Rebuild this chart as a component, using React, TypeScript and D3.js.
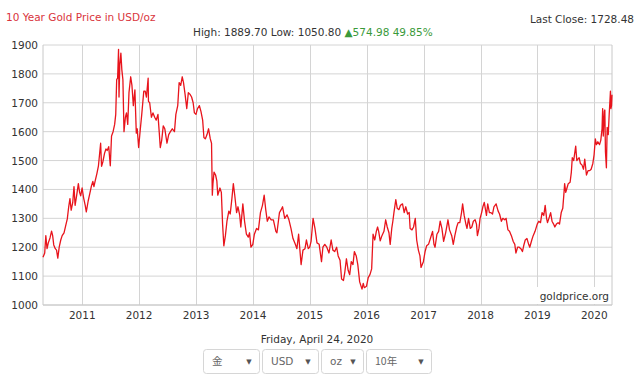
import React from "react";
import * as d3 from "d3";

const dates: string[] = [
  "2010-04-24","2010-05-05","2010-05-12","2010-05-20","2010-05-28","2010-06-08","2010-06-18","2010-06-25","2010-07-02","2010-07-12","2010-07-20","2010-07-28","2010-08-06","2010-08-16","2010-08-25","2010-09-06","2010-09-16","2010-09-27","2010-10-06","2010-10-14","2010-10-22","2010-11-01","2010-11-09","2010-11-16","2010-11-25","2010-12-07","2010-12-15","2010-12-22","2010-12-31",
  "2011-01-10","2011-01-20","2011-01-27","2011-02-08","2011-02-18","2011-02-28","2011-03-10","2011-03-17","2011-03-25","2011-04-05","2011-04-15","2011-04-29","2011-05-05","2011-05-13","2011-05-24","2011-06-02","2011-06-10","2011-06-20","2011-06-30","2011-07-08","2011-07-18","2011-07-28","2011-08-04","2011-08-10","2011-08-16","2011-08-22","2011-08-25","2011-08-30","2011-09-06","2011-09-12","2011-09-19","2011-09-26","2011-10-05","2011-10-12","2011-10-20","2011-10-28","2011-11-08","2011-11-16","2011-11-25","2011-12-05","2011-12-14","2011-12-20","2011-12-29",
  "2012-01-09","2012-01-18","2012-01-31","2012-02-09","2012-02-17","2012-02-28","2012-03-01","2012-03-09","2012-03-20","2012-03-30","2012-04-10","2012-04-20","2012-05-01","2012-05-09","2012-05-16","2012-05-25","2012-06-04","2012-06-14","2012-06-28","2012-07-09","2012-07-20","2012-08-01","2012-08-15","2012-08-24","2012-09-05","2012-09-14","2012-09-24","2012-10-04","2012-10-12","2012-10-22","2012-11-02","2012-11-12","2012-11-22","2012-12-03","2012-12-13","2012-12-21","2012-12-31",
  "2013-01-10","2013-01-22","2013-02-01","2013-02-12","2013-02-20","2013-03-01","2013-03-12","2013-03-22","2013-04-02","2013-04-10","2013-04-15","2013-04-19","2013-04-26","2013-05-06","2013-05-14","2013-05-20","2013-06-03","2013-06-12","2013-06-20","2013-06-28","2013-07-08","2013-07-18","2013-07-30","2013-08-08","2013-08-19","2013-08-28","2013-09-06","2013-09-18","2013-09-27","2013-10-08","2013-10-15","2013-10-28","2013-11-08","2013-11-20","2013-12-02","2013-12-10","2013-12-19","2013-12-31",
  "2014-01-10","2014-01-24","2014-02-05","2014-02-18","2014-03-03","2014-03-14","2014-03-24","2014-04-03","2014-04-14","2014-04-28","2014-05-12","2014-05-28","2014-06-04","2014-06-20","2014-07-01","2014-07-10","2014-07-24","2014-08-08","2014-08-20","2014-09-02","2014-09-15","2014-09-30","2014-10-10","2014-10-21","2014-11-06","2014-11-18","2014-12-01","2014-12-10","2014-12-22","2014-12-31",
  "2015-01-09","2015-01-22","2015-02-03","2015-02-16","2015-03-02","2015-03-17","2015-03-26","2015-04-07","2015-04-20","2015-05-04","2015-05-18","2015-05-29","2015-06-10","2015-06-22","2015-07-02","2015-07-14","2015-07-24","2015-08-05","2015-08-14","2015-08-24","2015-09-04","2015-09-14","2015-09-24","2015-10-05","2015-10-14","2015-10-26","2015-11-05","2015-11-17","2015-12-02","2015-12-10","2015-12-17","2015-12-31",
  "2016-01-11","2016-01-22","2016-02-02","2016-02-11","2016-02-22","2016-03-03","2016-03-11","2016-03-18","2016-03-28","2016-04-08","2016-04-21","2016-05-02","2016-05-12","2016-05-23","2016-05-31","2016-06-10","2016-06-17","2016-06-24","2016-07-06","2016-07-15","2016-07-26","2016-08-05","2016-08-18","2016-08-29","2016-09-08","2016-09-20","2016-09-30","2016-10-06","2016-10-18","2016-10-28","2016-11-08","2016-11-17","2016-11-28","2016-12-08","2016-12-15","2016-12-30",
  "2017-01-10","2017-01-20","2017-02-01","2017-02-13","2017-02-27","2017-03-08","2017-03-15","2017-03-27","2017-04-07","2017-04-17","2017-04-28","2017-05-09","2017-05-22","2017-06-06","2017-06-16","2017-06-30","2017-07-10","2017-07-20","2017-08-01","2017-08-10","2017-08-21","2017-09-01","2017-09-08","2017-09-18","2017-09-29","2017-10-06","2017-10-16","2017-10-27","2017-11-06","2017-11-16","2017-11-27","2017-12-06","2017-12-12","2017-12-22","2017-12-29",
  "2018-01-08","2018-01-16","2018-01-25","2018-02-08","2018-02-16","2018-02-27","2018-03-07","2018-03-19","2018-03-28","2018-04-11","2018-04-24","2018-05-03","2018-05-15","2018-05-24","2018-06-05","2018-06-14","2018-06-26","2018-07-06","2018-07-18","2018-07-30","2018-08-09","2018-08-16","2018-08-27","2018-09-06","2018-09-17","2018-09-27","2018-10-05","2018-10-15","2018-10-26","2018-11-06","2018-11-13","2018-11-26","2018-12-05","2018-12-17","2018-12-31",
  "2019-01-10","2019-01-21","2019-01-31","2019-02-11","2019-02-20","2019-03-01","2019-03-07","2019-03-19","2019-03-27","2019-04-05","2019-04-15","2019-04-23","2019-05-03","2019-05-14","2019-05-23","2019-06-03","2019-06-13","2019-06-21","2019-06-25","2019-07-02","2019-07-10","2019-07-18","2019-07-30","2019-08-07","2019-08-13","2019-08-22","2019-09-04","2019-09-11","2019-09-18","2019-09-26","2019-10-04","2019-10-14","2019-10-24","2019-11-01","2019-11-12","2019-11-22","2019-12-03","2019-12-12","2019-12-23","2019-12-31",
  "2020-01-08","2020-01-15","2020-01-24","2020-02-04","2020-02-12","2020-02-20","2020-02-24","2020-02-28","2020-03-06","2020-03-09","2020-03-13","2020-03-19","2020-03-24","2020-03-31","2020-04-06","2020-04-09","2020-04-14","2020-04-17","2020-04-21","2020-04-24"
];

const prices: number[] = [
  1165,1180,1240,1195,1215,1232,1256,1240,1208,1195,1190,1162,1200,1225,1240,1250,1273,1298,1340,1368,1328,1355,1410,1345,1375,1420,1390,1378,1405,
  1370,1345,1322,1360,1385,1410,1428,1410,1430,1455,1482,1560,1480,1495,1525,1540,1535,1548,1482,1585,1600,1625,1660,1780,1785,1885,1720,1830,1872,1815,1780,1600,1650,1665,1625,1735,1790,1760,1690,1745,1595,1610,1545,
  1610,1660,1740,1740,1720,1785,1705,1700,1650,1665,1650,1640,1660,1600,1545,1570,1620,1610,1560,1590,1600,1610,1600,1660,1690,1770,1760,1790,1770,1730,1680,1735,1730,1720,1700,1665,1660,
  1680,1690,1670,1640,1580,1575,1590,1610,1575,1560,1380,1420,1460,1450,1430,1380,1405,1390,1280,1205,1240,1290,1325,1315,1370,1420,1380,1320,1340,1310,1270,1350,1290,1245,1235,1250,1200,1210,
  1245,1265,1260,1320,1345,1380,1330,1290,1305,1295,1295,1255,1250,1320,1330,1340,1300,1312,1295,1265,1230,1210,1195,1245,1140,1190,1195,1225,1195,1200,
  1220,1300,1265,1215,1210,1150,1200,1210,1200,1180,1225,1190,1185,1200,1170,1155,1090,1085,1115,1160,1120,1105,1150,1140,1185,1170,1140,1080,1055,1075,1060,1065,
  1095,1105,1125,1245,1225,1255,1270,1255,1222,1240,1255,1295,1270,1250,1210,1265,1290,1320,1365,1335,1330,1345,1350,1320,1340,1315,1320,1265,1260,1270,1300,1225,1190,1170,1130,1150,
  1185,1205,1210,1230,1255,1210,1200,1245,1255,1290,1265,1220,1250,1295,1260,1240,1210,1240,1270,1285,1285,1320,1350,1310,1280,1265,1300,1265,1270,1290,1295,1280,1240,1265,1300,
  1320,1340,1355,1310,1350,1320,1320,1315,1340,1350,1325,1315,1290,1300,1295,1300,1260,1255,1240,1220,1210,1180,1200,1200,1195,1185,1205,1225,1230,1210,1200,1225,1240,1255,1280,
  1290,1285,1320,1310,1345,1300,1285,1305,1320,1290,1280,1270,1280,1285,1280,1320,1335,1390,1420,1390,1405,1420,1425,1460,1510,1500,1550,1500,1505,1510,1490,1485,1470,1505,1450,1465,1465,1470,1490,1520,
  1575,1555,1565,1555,1570,1610,1680,1585,1670,1675,1530,1475,1615,1590,1660,1690,1740,1680,1690,1728
];

const yTicks: number[] = [1000, 1100, 1200, 1300, 1400, 1500, 1600, 1700, 1800, 1900];
const yearTicks: number[] = [2011, 2012, 2013, 2014, 2015, 2016, 2017, 2018, 2019, 2020];
const selectLabels: string[] = ["金", "USD", "oz", "10年"];

const FONT = "'DejaVu Sans', Verdana, sans-serif";

export default function App() {
  const W = 640, H = 382;
  const left = 43, right = 612, top = 45, bottom = 305;
  const parse = d3.timeParse("%Y-%m-%d");
  const data = dates.map((d, i) => ({ date: parse(d) as Date, v: prices[i] }));
  const x = d3.scaleTime()
    .domain([parse("2010-04-24") as Date, parse("2020-04-24") as Date])
    .range([left, right]);
  const y = d3.scaleLinear().domain([1000, 1900]).range([bottom, top]);
  const line = d3.line<{ date: Date; v: number }>()
    .x(d => x(d.date))
    .y(d => y(d.v));

  const selW = [56, 56, 42, 65];
  const selX: number[] = [];
  let cx = 203;
  selW.forEach(w => { selX.push(cx); cx += w + 3; });

  return (
    <svg width={W} height={H} style={{ position: "absolute", left: 0, top: 0, background: "#fff" }} fontFamily={FONT}>
      <rect x={0} y={0} width={W} height={H} fill="#fff" />
      <text x={6} y={21} fontSize={10.5} fill="#d9343c">10 Year Gold Price in USD/oz</text>
      <text x={634} y={23} fontSize={10.5} fill="#333" textAnchor="end">Last Close: 1728.48</text>
      <text x={193} y={36} fontSize={10.5} fill="#333">
        High: 1889.70 Low: 1050.80 <tspan fill="#3a9a3a">▲574.98 49.85%</tspan>
      </text>

      {yTicks.map(t => (
        <line key={"gy" + t} x1={left} x2={right} y1={y(t)} y2={y(t)} stroke="#d4d4d4" strokeWidth={1} />
      ))}
      {yearTicks.map(t => {
        const xx = Math.round(x(new Date(t, 0, 1))) + 0.5;
        return <line key={"gx" + t} x1={xx} x2={xx} y1={top} y2={bottom} stroke="#d4d4d4" strokeWidth={1} />;
      })}
      <line x1={left} x2={left} y1={top} y2={bottom} stroke="#c8c8c8" />
      <line x1={right} x2={right} y1={top} y2={bottom} stroke="#c8c8c8" />
      <line x1={left} x2={right} y1={bottom} y2={bottom} stroke="#c8c8c8" />

      {yTicks.map(t => (
        <text key={"ty" + t} x={38} y={y(t) + 4} fontSize={10.5} fill="#333" textAnchor="end">{t}</text>
      ))}
      {yearTicks.map(t => (
        <text key={"tx" + t} x={x(new Date(t, 0, 1))} y={319} fontSize={10.5} fill="#333" textAnchor="middle">{t}</text>
      ))}

      <path d={line(data) || ""} fill="none" stroke="#e8141c" strokeWidth={1.3} strokeLinejoin="round" />

      <rect x={536} y={287} width={75} height={17} fill="#fff" />
      <text x={609} y={300} fontSize={10.5} fill="#333" textAnchor="end">goldprice.org</text>

      <text x={317} y={343} fontSize={10.5} fill="#333" textAnchor="middle">Friday, April 24, 2020</text>
      {selectLabels.map((s, i) => (
        <g key={"sel" + i}>
          <rect x={selX[i] + 0.5} y={349.5} width={selW[i]} height={24} rx={3} fill="#fff" stroke="#d6d6d6" />
          <text x={selX[i] + 9} y={365} fontSize={10.5} fill="#666"
            fontFamily={i === 0 || i === 3 ? "'Noto Sans CJK JP', " + FONT : FONT}>{s}</text>
          <text x={selX[i] + selW[i] - 10} y={364} fontSize={7} fill="#555" textAnchor="middle">▼</text>
        </g>
      ))}
    </svg>
  );
}
